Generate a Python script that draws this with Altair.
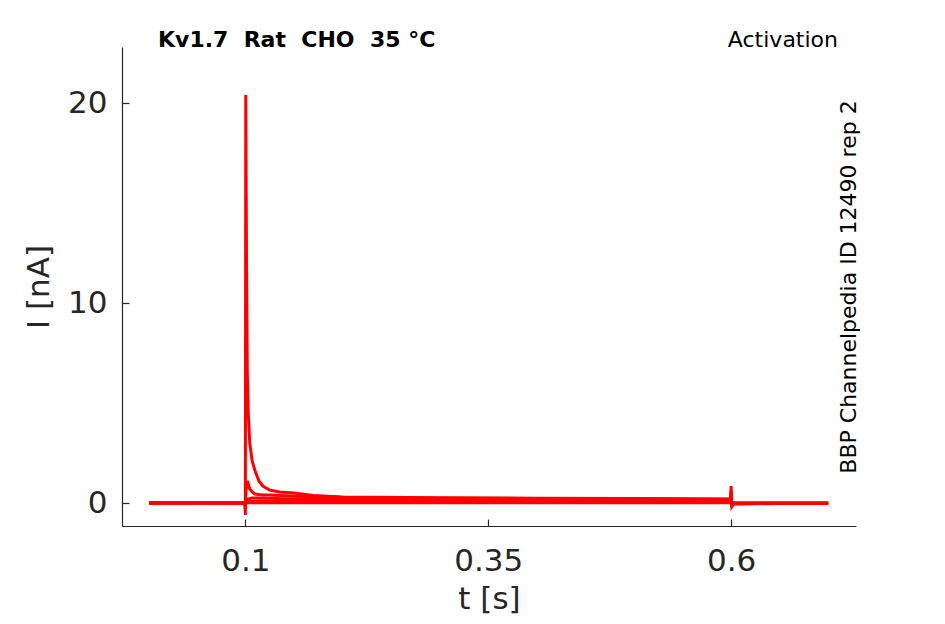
import altair as alt
import pandas as pd

# ---- data ----
TIMES = [0.001, 0.05, 0.0995, 0.1, 0.1004, 0.1012, 0.102, 0.103, 0.1045, 0.107,
         0.11, 0.114, 0.118, 0.125, 0.135, 0.15, 0.17, 0.2, 0.3, 0.4, 0.5,
         0.5995, 0.6, 0.6008, 0.602, 0.65, 0.7]

SWEEP_1 = [0.0, 0.0, 0.0, -0.6, 20.4, 12.0, 6.5, 4.5, 3.0, 2.1, 1.6, 1.1, 0.85,
           0.65, 0.55, 0.5, 0.38, 0.3, 0.26, 0.24, 0.22, 0.2, 0.85, -0.2, -0.05,
           -0.02, -0.02]
SWEEP_2 = [0.0, 0.02, 0.0, -0.3, 0.4, 0.9, 1.1, 0.95, 0.7, 0.55, 0.45, 0.42, 0.4,
           0.4, 0.38, 0.35, 0.3, 0.28, 0.24, 0.22, 0.2, 0.19, 0.6, -0.15, -0.04,
           -0.02, -0.02]
SWEEP_3 = [0.0, 0.0, 0.0, -0.2, 0.05, 0.1, 0.15, 0.2, 0.22, 0.25, 0.25, 0.25,
           0.25, 0.24, 0.22, 0.21, 0.2, 0.18, 0.16, 0.15, 0.14, 0.13, 0.4, -0.1,
           -0.03, -0.01, -0.01]
SWEEP_4 = [0.0, 0.0, 0.0, -0.1, 0.02, 0.04, 0.05, 0.06, 0.07, 0.08, 0.09, 0.1,
           0.1, 0.1, 0.1, 0.1, 0.09, 0.09, 0.08, 0.08, 0.08, 0.08, 0.25, -0.05,
           0.0, 0.0, 0.0]
SWEEP_5 = [0.0, 0.0, 0.0, -0.05, 0.0, 0.01, 0.01, 0.01, 0.01, 0.01, 0.01, 0.01,
           0.01, 0.01, 0.01, 0.01, 0.01, 0.01, 0.01, 0.01, 0.01, 0.01, 0.1, -0.02,
           0.0, 0.0, 0.0]

SWEEPS = {"s1": SWEEP_1, "s2": SWEEP_2, "s3": SWEEP_3, "s4": SWEEP_4, "s5": SWEEP_5}

X_TICKS = [0.1, 0.35, 0.6]
Y_TICKS = [0, 10, 20]
X_DOMAIN = [-0.027, 0.7286]
Y_DOMAIN = [-1.15, 22.8]

TITLE = "Kv1.7\u00a0 Rat\u00a0 CHO\u00a0 35 °C"
PROTOCOL = "Activation"
SOURCE = "BBP Channelpedia ID 12490 rep 2"
X_TITLE = "t [s]"
Y_TITLE = "I [nA]"

rows = []
for name, vals in SWEEPS.items():
    for t, v in zip(TIMES, vals):
        rows.append({"sweep": name, "t": t, "i": v})
df = pd.DataFrame(rows)

FONT = "DejaVu Sans"
AX = "#262626"

xs = alt.Scale(domain=X_DOMAIN, nice=False, zero=False)
ys = alt.Scale(domain=Y_DOMAIN, nice=False, zero=False)

lines = alt.Chart(df).mark_line(color="#ff0000", strokeWidth=3).encode(
    x=alt.X("t:Q", scale=xs, axis=alt.Axis(
        orient="bottom", values=X_TICKS, format=".2~f", title=X_TITLE,
        tickSize=0, labelPadding=20, titlePadding=8, grid=False,
        domainColor=AX, domainWidth=1.2, labelColor=AX, titleColor=AX,
        labelFontSize=31, titleFontSize=31, titleFontWeight="normal",
        labelFont=FONT, titleFont=FONT, labelFlush=False)),
    y=alt.Y("i:Q", scale=ys, axis=alt.Axis(
        orient="left", values=Y_TICKS, title=Y_TITLE,
        tickSize=0, labelPadding=15, titlePadding=12, grid=False,
        domainColor=AX, domainWidth=1.2, labelColor=AX, titleColor=AX,
        labelFontSize=31, titleFontSize=31, titleFontWeight="normal",
        labelFont=FONT, titleFont=FONT, labelFlush=False)),
    detail="sweep:N",
)

ticks = alt.Chart(df).mark_line(opacity=0).encode(
    x=alt.X("t:Q", scale=xs, axis=alt.Axis(
        orient="bottom", values=X_TICKS, offset=-7, tickSize=7, tickWidth=1.2,
        tickColor=AX, domain=False, labels=False, title=None, grid=False)),
    y=alt.Y("i:Q", scale=ys, axis=alt.Axis(
        orient="left", values=Y_TICKS, offset=-7, tickSize=7, tickWidth=1.2,
        tickColor=AX, domain=False, labels=False, title=None, grid=False)),
    detail="sweep:N",
)

title_layer = alt.Chart(pd.DataFrame({"label": [TITLE]})).mark_text(
    align="left", baseline="alphabetic", fontSize=22, fontWeight="bold",
    font=FONT, color="black").encode(x=alt.value(36), y=alt.value(0), text="label:N")

proto_layer = alt.Chart(pd.DataFrame({"label": [PROTOCOL]})).mark_text(
    align="right", baseline="alphabetic", fontSize=22, font=FONT,
    color="black").encode(x=alt.value(716), y=alt.value(0), text="label:N")

source_layer = alt.Chart(pd.DataFrame({"label": [SOURCE]})).mark_text(
    align="center", baseline="middle", angle=270, fontSize=22, font=FONT,
    color="black").encode(x=alt.value(727), y=alt.value(240), text="label:N")

chart = alt.layer(lines, ticks, title_layer, proto_layer, source_layer).resolve_axis(
    x="independent", y="independent"
).properties(
    width=734, height=479, autosize="none",
    padding={"left": 114, "top": 39, "right": 70, "bottom": 95},
).configure_view(stroke=None)

chart.save("out.html", embed_options={"renderer": "svg", "actions": False})
